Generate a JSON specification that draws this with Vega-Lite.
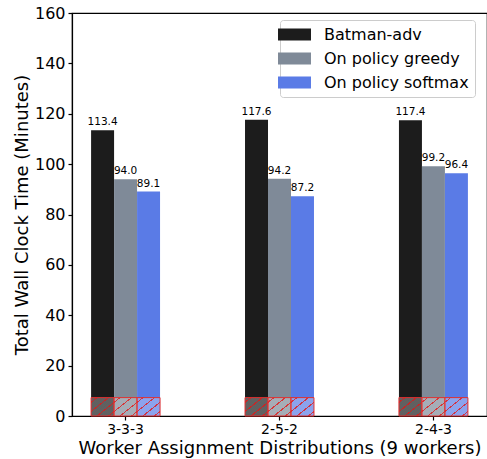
{
  "$schema": "https://vega.github.io/schema/vega-lite/v6.json",
  "width": 415,
  "height": 403,
  "autosize": {"type": "none"},
  "padding": {"left": 72, "top": 13, "right": 0, "bottom": 43},
  "config": {
    "font": "DejaVu Sans",
    "view": {"stroke": "black", "strokeWidth": 1.2},
    "axis": {"domainColor": "black", "tickColor": "black", "labelColor": "black", "titleColor": "black", "titleFontWeight": "normal", "grid": false, "labelFont": "DejaVu Sans", "titleFont": "DejaVu Sans", "domainWidth": 1.2, "tickWidth": 1.2}
  },
  "data": {"values": [
    {"dist": "3-3-3", "method": "Batman-adv", "time": 113.4, "base": 7.3},
    {"dist": "3-3-3", "method": "On policy greedy", "time": 94.0, "base": 7.3},
    {"dist": "3-3-3", "method": "On policy softmax", "time": 89.1, "base": 7.3},
    {"dist": "2-5-2", "method": "Batman-adv", "time": 117.6, "base": 7.3},
    {"dist": "2-5-2", "method": "On policy greedy", "time": 94.2, "base": 7.3},
    {"dist": "2-5-2", "method": "On policy softmax", "time": 87.2, "base": 7.3},
    {"dist": "2-4-3", "method": "Batman-adv", "time": 117.4, "base": 7.3},
    {"dist": "2-4-3", "method": "On policy greedy", "time": 99.2, "base": 7.3},
    {"dist": "2-4-3", "method": "On policy softmax", "time": 96.4, "base": 7.3}
  ]},
  "encoding": {
    "x": {
      "field": "dist", "type": "nominal", "sort": ["3-3-3", "2-5-2", "2-4-3"],
      "scale": {"paddingInner": 0.552, "paddingOuter": 0.124},
      "axis": {"title": "Worker Assignment Distributions (9 workers)", "labelAngle": 0, "labelFontSize": 14, "titleFontSize": 18, "tickSize": 4, "labelPadding": 2, "titlePadding": 3}
    },
    "xOffset": {"field": "method", "type": "nominal", "sort": ["Batman-adv", "On policy greedy", "On policy softmax"], "scale": {"paddingInner": 0, "paddingOuter": 0}}
  },
  "layer": [
    {
      "mark": {"type": "bar", "opacity": 1},
      "encoding": {
        "y": {"field": "time", "type": "quantitative", "scale": {"domain": [0, 160], "nice": false},
          "axis": {"title": "Total Wall Clock Time (Minutes)", "values": [0, 20, 40, 60, 80, 100, 120, 140, 160], "labelFontSize": 16, "titleFontSize": 18, "tickSize": 4, "labelPadding": 3, "titlePadding": 3}},
        "color": {"field": "method", "type": "nominal",
          "scale": {"domain": ["Batman-adv", "On policy greedy", "On policy softmax"], "range": ["#1c1c1c", "#7f8a98", "#5a7be6"]},
          "legend": {"title": null, "orient": "none", "legendX": 208, "legendY": 7, "fillColor": "white", "strokeColor": "#cccccc", "cornerRadius": 3, "padding": 6, "labelFontSize": 16, "labelColor": "black", "labelFont": "DejaVu Sans", "symbolType": "M-2,-0.72H2V0.72H-2Z", "symbolSize": 272, "symbolStrokeWidth": 0, "symbolOpacity": 1, "labelOffset": 21, "rowPadding": 7}}
      }
    },
    {
      "mark": {"type": "bar", "strokeWidth": 1, "stroke": "#e03030",
        "fill": {"gradient": "linear", "x1": 0, "y1": 0, "x2": 1, "y2": 1, "stops": [
          {"offset": 0, "color": "rgba(255,255,255,0.3)"},
          {"offset": 0.11, "color": "rgba(255,255,255,0.3)"},
          {"offset": 0.11, "color": "rgba(230,40,40,0.85)"},
          {"offset": 0.145, "color": "rgba(230,40,40,0.85)"},
          {"offset": 0.145, "color": "rgba(255,255,255,0.3)"},
          {"offset": 0.36, "color": "rgba(255,255,255,0.3)"},
          {"offset": 0.36, "color": "rgba(230,40,40,0.85)"},
          {"offset": 0.395, "color": "rgba(230,40,40,0.85)"},
          {"offset": 0.395, "color": "rgba(255,255,255,0.3)"},
          {"offset": 0.61, "color": "rgba(255,255,255,0.3)"},
          {"offset": 0.61, "color": "rgba(230,40,40,0.85)"},
          {"offset": 0.645, "color": "rgba(230,40,40,0.85)"},
          {"offset": 0.645, "color": "rgba(255,255,255,0.3)"},
          {"offset": 0.86, "color": "rgba(255,255,255,0.3)"},
          {"offset": 0.86, "color": "rgba(230,40,40,0.85)"},
          {"offset": 0.895, "color": "rgba(230,40,40,0.85)"},
          {"offset": 0.895, "color": "rgba(255,255,255,0.3)"},
          {"offset": 1, "color": "rgba(255,255,255,0.3)"}
        ]}},
      "encoding": {
        "y": {"field": "base", "type": "quantitative"}
      }
    },
    {
      "mark": {"type": "text", "baseline": "bottom", "dy": -3, "fontSize": 10.5, "color": "black"},
      "encoding": {
        "y": {"field": "time", "type": "quantitative"},
        "text": {"field": "time", "type": "quantitative", "format": ".1f"}
      }
    }
  ]
}
